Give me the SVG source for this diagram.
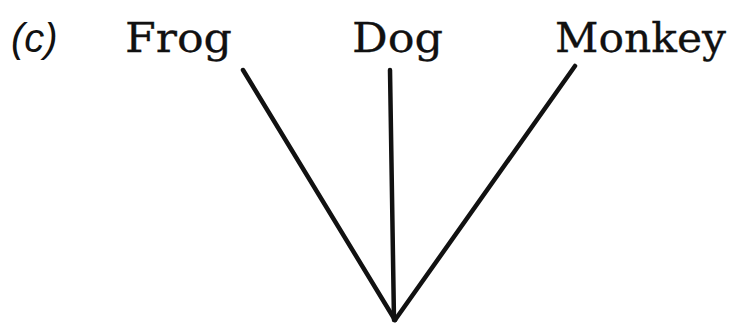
<svg xmlns="http://www.w3.org/2000/svg" width="746" height="329" viewBox="0 0 746 329">
<style>
.lbl{font-family:"DejaVu Serif","Liberation Serif",serif;font-size:41px;fill:#111;stroke:#111;stroke-width:0.3}
.tag{font-family:"Liberation Sans","DejaVu Sans",sans-serif;font-style:italic;font-size:40px;fill:#111}
.edge{stroke:#111;stroke-width:4.5;fill:none;stroke-linecap:round;stroke-linejoin:miter}
</style>
<rect width="746" height="329" fill="#fff"/>
<text class="tag" x="11" y="52">(c)</text>
<g id="frog"><text class="lbl" x="125" y="52" textLength="107" lengthAdjust="spacingAndGlyphs">Frog</text></g>
<g id="dog"><text class="lbl" x="352" y="52" textLength="91" lengthAdjust="spacingAndGlyphs">Dog</text></g>
<g id="monkey"><text class="lbl" x="555" y="52" textLength="171" lengthAdjust="spacingAndGlyphs">Monkey</text></g>
<g id="connectors">
<path class="edge" d="M243,70 L395,320"/>
<path class="edge" d="M390,70 L394,320"/>
<path class="edge" d="M575,66 L395,320"/>
</g>
</svg>
